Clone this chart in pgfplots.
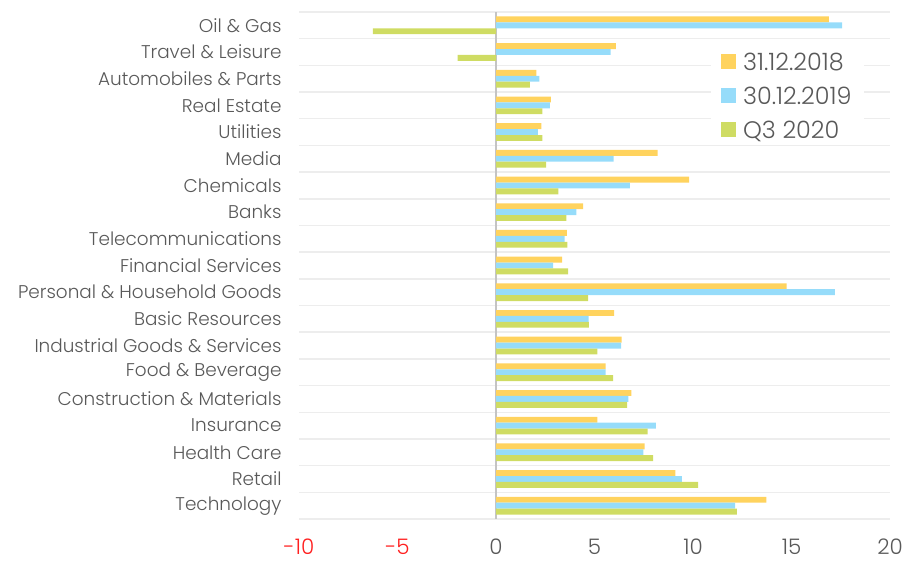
\documentclass[border=0pt]{standalone}
\usepackage{pgfplots}
\pgfplotsset{compat=1.18}
\usepackage{fontspec}
\setmainfont{Poppins Light}
\definecolor{cyel}{HTML}{FFD35E}
\definecolor{cblu}{HTML}{96DCFA}
\definecolor{cgrn}{HTML}{CFDC63}
\definecolor{tgray}{HTML}{595959}
\definecolor{gridc}{HTML}{EDEDED}
\definecolor{zeroc}{HTML}{C4C4C4}
\definecolor{negred}{HTML}{FF2020}
\begin{document}
\begin{tikzpicture}
\useasboundingbox (0,0) rectangle (913bp,563bp);
\begin{axis}[
  at={(299bp,44bp)}, anchor=south west,
  scale only axis, width=591bp, height=507bp,
  xmin=-10, xmax=20, ymin=-0.5, ymax=18.5,
  y dir=reverse,
  xbar, bar width=5.9bp,
  axis line style={draw=none},
  major tick length=0pt, minor tick length=0pt,
  xtick={-10,-5,0,5,10,15,20},
  xticklabels={\textcolor{negred}{-10},\textcolor{negred}{-5},0,5,10,15,20},
  xticklabel style={font=\fontsize{21.5}{25}\selectfont, text=tgray, yshift=-18bp, inner ysep=2bp},
  ytick={0,...,18},
  yticklabels={Oil \& Gas, Travel \& Leisure, Automobiles \& Parts, Real Estate, Utilities, Media, Chemicals, Banks, Telecommunications, Financial Services, Personal \& Household Goods, Basic Resources, Industrial Goods \& Services, Food \& Beverage, Construction \& Materials, Insurance, Health Care, Retail, Technology},
  yticklabel style={font=\fontsize{18.5}{21}\selectfont, text=tgray, xshift=-14bp},
  minor ytick={-0.5,0.5,...,18.5},
  yminorgrids, minor grid style={gridc, line width=1.5bp},
  extra x ticks={0}, extra x tick labels={},
  extra x tick style={xmajorgrids, major grid style={zeroc, line width=2bp}},
  legend style={at={(0.697,0.928)}, anchor=north west, draw=none, fill=white,
    font=\fontsize{24}{28}\selectfont, text=tgray, inner xsep=10bp, inner ysep=2bp,
    row sep=11bp, /tikz/every odd column/.append style={column sep=5bp}},
  legend cell align=left,
  legend image code/.code={\fill[#1] (0bp,-7bp) rectangle (15bp,8bp);},
]
\addplot[fill=cyel, draw=none, bar shift=5.9bp] coordinates {
(16.9,0) (6.08,1) (2.05,2) (2.78,3) (2.3,4) (8.2,5) (9.8,6) (4.42,7) (3.6,8) (3.36,9)
(14.75,10) (6.0,11) (6.38,12) (5.56,13) (6.87,14) (5.15,15) (7.55,16) (9.1,17) (13.72,18)};
\addplot[fill=cblu, draw=none, bar shift=0bp] coordinates {
(17.57,0) (5.82,1) (2.2,2) (2.73,3) (2.12,4) (5.97,5) (6.79,6) (4.08,7) (3.48,8) (2.9,9)
(17.2,10) (4.7,11) (6.35,12) (5.56,13) (6.72,14) (8.11,15) (7.48,16) (9.44,17) (12.14,18)};
\addplot[fill=cgrn, draw=none, bar shift=-5.9bp] coordinates {
(-6.25,0) (-1.95,1) (1.72,2) (2.35,3) (2.36,4) (2.55,5) (3.16,6) (3.57,7) (3.62,8) (3.66,9)
(4.68,10) (4.72,11) (5.15,12) (5.95,13) (6.66,14) (7.7,15) (7.98,16) (10.26,17) (12.23,18)};
\legend{31.12.2018, 30.12.2019, Q3 2020}
\end{axis}
\end{tikzpicture}
\end{document}
